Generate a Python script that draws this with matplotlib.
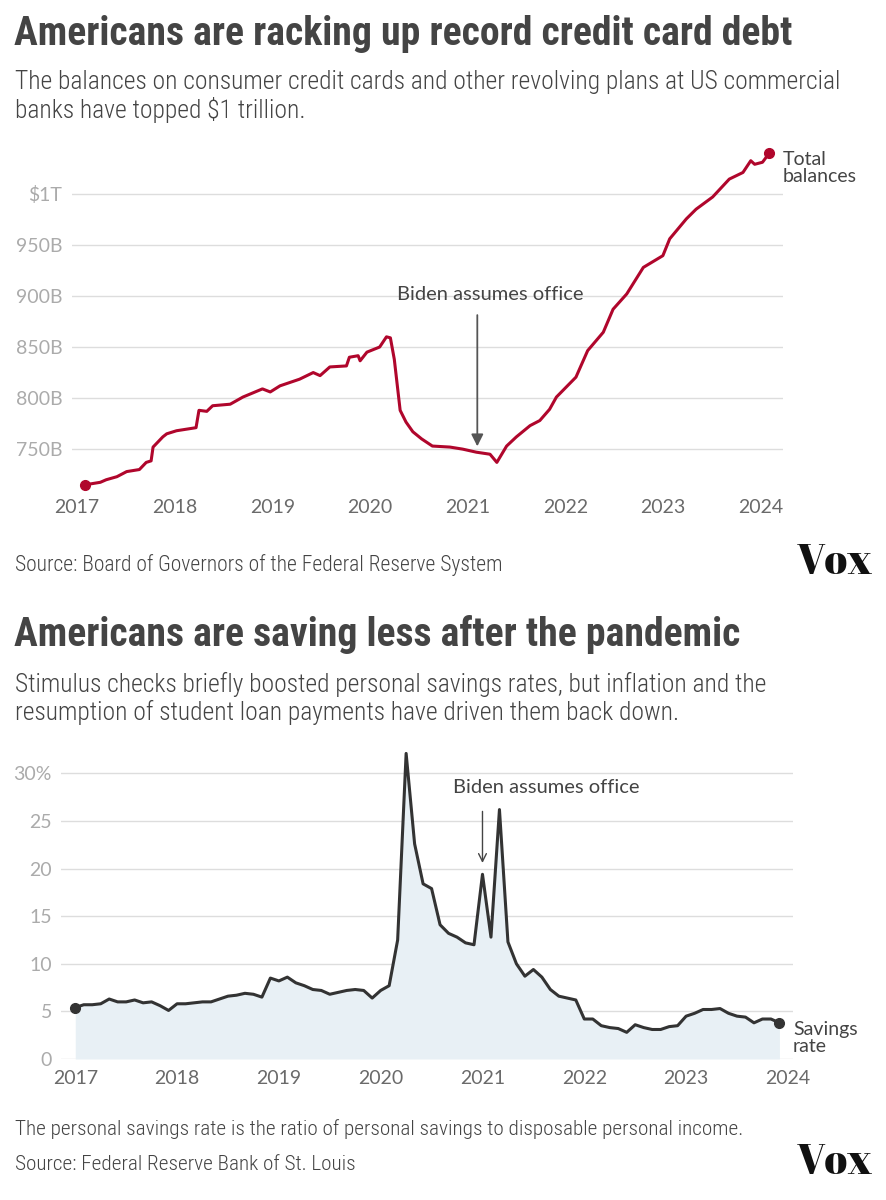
import matplotlib
matplotlib.use("Agg")
import matplotlib.pyplot as plt
import numpy as np

# --- Credit card balances (billions) ---
debt_dates = [
    2017.08, 2017.24, 2017.30, 2017.41, 2017.51, 2017.64, 2017.71, 2017.76,
    2017.78, 2017.88, 2017.92, 2018.02, 2018.22, 2018.25, 2018.33, 2018.39,
    2018.57, 2018.70, 2018.90, 2018.98, 2019.08, 2019.28, 2019.42, 2019.49,
    2019.59, 2019.76, 2019.79, 2019.88, 2019.90, 2019.97, 2020.10, 2020.17,
    2020.21, 2020.25, 2020.31, 2020.37, 2020.44, 2020.53, 2020.64, 2020.82,
    2020.95, 2021.09, 2021.23, 2021.30, 2021.40, 2021.50, 2021.64, 2021.74,
    2021.84, 2021.91, 2022.11, 2022.23, 2022.39, 2022.49, 2022.63, 2022.80,
    2023.00, 2023.07, 2023.24, 2023.34, 2023.51, 2023.68, 2023.82, 2023.90,
    2023.94, 2024.02, 2024.09,
]
debt_values = [
    715, 717.5, 720, 723, 728, 730, 737, 738.5,
    752, 762, 765, 768, 771, 788, 787, 792.5,
    794, 801, 809, 806, 812, 818.5, 825, 822,
    830.5, 831.5, 840, 841.5, 836.5, 845, 850, 860,
    859, 838, 788, 776.5, 767, 760, 753, 752,
    750, 747, 745, 737, 753, 762, 773, 778,
    789, 801, 820.5, 846.5, 864.5, 887, 902, 928,
    939.5, 956, 975.5, 985, 997, 1014.5, 1021, 1032.5,
    1029, 1031, 1040,
]
debt_ticks = [750, 800, 850, 900, 950, 1000]
debt_tick_labels = ["750B", "800B", "850B", "900B", "950B", "$1T"]

# --- Personal savings rate (%), monthly Jan 2017 - Dec 2023 ---
savings = [
    5.4, 5.7, 5.7, 5.8, 6.3, 6.0, 6.0, 6.2, 5.9, 6.0, 5.6, 5.1,
    5.8, 5.8, 5.9, 6.0, 6.0, 6.3, 6.6, 6.7, 6.9, 6.8, 6.5, 8.5,
    8.2, 8.6, 8.0, 7.7, 7.3, 7.2, 6.8, 7.0, 7.2, 7.3, 7.2, 6.4,
    7.2, 7.7, 12.5, 32.1, 22.6, 18.4, 17.9, 14.1, 13.2, 12.8, 12.2, 12.0,
    19.4, 12.8, 26.2, 12.3, 10.0, 8.7, 9.4, 8.6, 7.3, 6.6, 6.4, 6.2,
    4.2, 4.2, 3.5, 3.3, 3.2, 2.8, 3.6, 3.3, 3.1, 3.1, 3.4, 3.5,
    4.5, 4.8, 5.2, 5.2, 5.3, 4.8, 4.5, 4.4, 3.8, 4.2, 4.2, 3.8,
]
savings_dates = [2017 + i / 12 for i in range(len(savings))]
savings_ticks = [0, 5, 10, 15, 20, 25, 30]
savings_tick_labels = ["0", "5", "10", "15", "20", "25", "30%"]
years = [2017, 2018, 2019, 2020, 2021, 2022, 2023, 2024]

W, H = 886, 1200
NARROW = ["Roboto Condensed", "Archivo Narrow", "DejaVu Sans"]
BODY = ["Lato", "DejaVu Sans"]
LOGO = ["Abril Fatface", "Liberation Serif", "DejaVu Serif"]


def fx(px):
    return px / W


def fy(py):
    return 1 - py / H


def style_axes(ax, pad_y, pad_x):
    for s in ax.spines.values():
        s.set_visible(False)
    ax.grid(True, axis="y", color="#dddddd", linewidth=1)
    ax.set_axisbelow(True)
    ax.tick_params(axis="both", length=0)
    ax.tick_params(axis="y", pad=pad_y, labelsize=14, labelcolor="#ababab")
    ax.tick_params(axis="x", pad=pad_x, labelsize=14, labelcolor="#6a6a6a")
    for lab in ax.get_xticklabels() + ax.get_yticklabels():
        lab.set_family(BODY)


fig = plt.figure(figsize=(W / 100, H / 100), dpi=100)

# === Top chart: credit card debt ===
fig.text(fx(14), fy(34), "Americans are racking up record credit card debt",
         family=NARROW, weight="bold", fontsize=28.6, color="#444444", va="center")
fig.text(fx(15), fy(82), "The balances on consumer credit cards and other revolving plans at US commercial",
         family=NARROW, weight="light", fontsize=18.4, color="#444444", va="center")
fig.text(fx(15), fy(110), "banks have topped $1 trillion.",
         family=NARROW, weight="light", fontsize=18.4, color="#444444", va="center")

ax1 = fig.add_axes([fx(72), fy(492), fx(783) - fx(72), (492 - 150) / H])
ax1.plot(debt_dates, debt_values, color="#b0062c", linewidth=2.2, solid_joinstyle="round")
ax1.plot([debt_dates[0], debt_dates[-1]], [debt_values[0], debt_values[-1]],
         "o", color="#b0062c", markersize=7, clip_on=False)
ax1.set_xlim(2016.95, 2024.23)
ax1.set_ylim(708, 1043)
ax1.set_yticks(debt_ticks)
ax1.set_yticklabels(debt_tick_labels)
ax1.set_xticks(years)
ax1.set_xticklabels([str(y) for y in years])
style_axes(ax1, 7, 5)
ax1.annotate("", xy=(2021.10, 750), xytext=(2021.10, 884),
             arrowprops=dict(arrowstyle="-|>", color="#555555", lw=1.3, mutation_scale=18))
ax1.text(2021.23, 901, "Biden assumes office", family=BODY, fontsize=14.5,
         color="#444444", ha="center", va="center")
ax1.text(1.0, 1042, "Total\nbalances", transform=ax1.get_yaxis_transform(),
         family=BODY, fontsize=14, color="#444444", ha="left", va="top",
         linespacing=1.0, clip_on=False)

fig.text(fx(15), fy(565), "Source: Board of Governors of the Federal Reserve System",
         family=NARROW, weight="light", fontsize=15.5, color="#444444", va="center")
fig.text(fx(835), fy(563), "Vox", family=LOGO,
         fontsize=30, color="#111111", ha="center", va="center")

# === Bottom chart: savings rate ===
fig.text(fx(14), fy(634), "Americans are saving less after the pandemic",
         family=NARROW, weight="bold", fontsize=28.6, color="#444444", va="center")
fig.text(fx(15), fy(684), "Stimulus checks briefly boosted personal savings rates, but inflation and the",
         family=NARROW, weight="light", fontsize=18.4, color="#444444", va="center")
fig.text(fx(15), fy(712), "resumption of student loan payments have driven them back down.",
         family=NARROW, weight="light", fontsize=18.4, color="#444444", va="center")

ax2 = fig.add_axes([fx(61), fy(1059), fx(793) - fx(61), (1059 - 751.5) / H])
ax2.fill_between(savings_dates, 0, savings, color="#e8f0f5", linewidth=0)
ax2.plot(savings_dates, savings, color="#333333", linewidth=2.2, solid_joinstyle="round")
ax2.plot([savings_dates[0], savings_dates[-1]], [savings[0], savings[-1]],
         "o", color="#333333", markersize=7, clip_on=False)
ax2.set_xlim(2016.86, 2024.05)
ax2.set_ylim(0, 32.3)
ax2.set_yticks(savings_ticks)
ax2.set_yticklabels(savings_tick_labels)
ax2.set_xticks(years)
ax2.set_xticklabels([str(y) for y in years])
style_axes(ax2, 6.5, 8)
ax2.annotate("", xy=(2021.0, 20.3), xytext=(2021.0, 26.3),
             arrowprops=dict(arrowstyle="->", color="#444444", lw=1.0, mutation_scale=14))
ax2.text(2021.63, 28.5, "Biden assumes office", family=BODY, fontsize=14.5,
         color="#444444", ha="center", va="center")
ax2.text(1.0, 4.0, "Savings\nrate", transform=ax2.get_yaxis_transform(),
         family=BODY, fontsize=14, color="#444444", ha="left", va="top",
         linespacing=1.0, clip_on=False)

fig.text(fx(15), fy(1129), "The personal savings rate is the ratio of personal savings to disposable personal income.",
         family=NARROW, weight="light", fontsize=15.3, color="#444444", va="center")
fig.text(fx(15), fy(1165), "Source: Federal Reserve Bank of St. Louis",
         family=NARROW, weight="light", fontsize=15.3, color="#444444", va="center")
fig.text(fx(835), fy(1163), "Vox", family=LOGO,
         fontsize=30, color="#111111", ha="center", va="center")

fig.savefig("out.png", dpi=100)
